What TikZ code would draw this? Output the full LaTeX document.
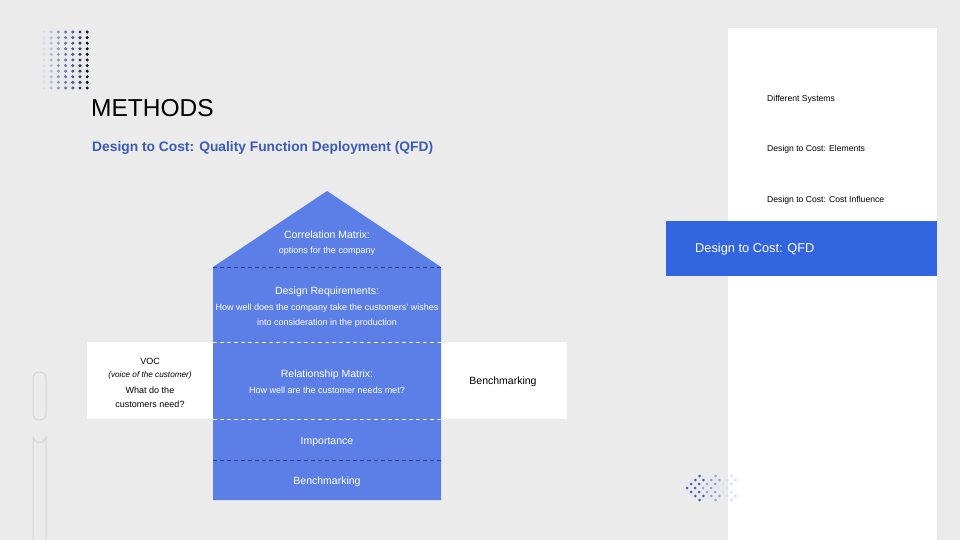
\documentclass[tikz,border=0pt]{standalone}
\usepackage{fontspec}
\setmainfont{Liberation Sans}
\definecolor{bg}{HTML}{EBEBEB}
\definecolor{hiblue}{HTML}{3465E0}
\definecolor{house}{HTML}{5B7FE6}
\definecolor{darkdash}{HTML}{2A3F8F}
\definecolor{subblue}{HTML}{3A5BB8}
\definecolor{capsule}{HTML}{D6D6D6}
\definecolor{dotA}{HTML}{D9DCE6}
\definecolor{dotB}{HTML}{B6BDD8}
\definecolor{dotC}{HTML}{8E99C8}
\definecolor{dotD}{HTML}{6B78B4}
\definecolor{dotE}{HTML}{4D5A9A}
\definecolor{dotF}{HTML}{2F3A70}
\definecolor{dotG}{HTML}{111426}
\definecolor{chevA}{HTML}{4A62B5}
\definecolor{chevB}{HTML}{95A3D8}
\definecolor{chevC}{HTML}{D8DDEE}
\begin{document}
\begin{tikzpicture}[x=1pt,y=-1pt,
  wtxt/.style={text=white,font=\fontsize{10.5}{12}\selectfont,inner sep=0pt},
  wsmall/.style={text=white,font=\fontsize{9}{10}\selectfont,inner sep=0pt},
  dtxt/.style={text=black,font=\fontsize{9}{10}\selectfont,inner sep=0pt},
  navtxt/.style={text=black,font=\fontsize{8.6}{10}\selectfont,inner sep=0pt,anchor=west},
  wdash/.style={white,dashed,line width=0.8pt,dash pattern=on 4pt off 3pt},
  ddash/.style={darkdash,dashed,line width=0.8pt,dash pattern=on 4pt off 3pt}]
\useasboundingbox (0,0) rectangle (960,540);
\fill[bg] (0,0) rectangle (960,540);
% right panel
\fill[white] (728,28) rectangle (937,540);
\fill[hiblue] (666,221) rectangle (937,276);
\node[anchor=west,text=white,font=\fontsize{12.8}{14}\selectfont,inner sep=0pt] (navqfd) at (695,249) {Design to Cost: QFD};
\node[navtxt] (nav1) at (767,99) {Different Systems};
\node[navtxt] (nav2) at (767,149) {Design to Cost: Elements};
\node[navtxt] (nav3) at (767,200) {Design to Cost: Cost Influence};
% dot grid top-left
\foreach \col [count=\i from 0] in {dotA,dotB,dotC,dotD,dotE,dotF,dotG}{
  \foreach \j in {0,...,10}{
    \fill[\col] (44+7.2*\i,32+5.6*\j) circle (1.7);
  }
}
% titles
\node[anchor=west,inner sep=0pt,font=\fontsize{24.5}{26}\selectfont] (title) at (91,108) {METHODS};
\node[anchor=west,inner sep=0pt,text=subblue,font=\bfseries\fontsize{13.8}{15}\selectfont] (sub) at (92,148) {Design to Cost: Quality Function Deployment (QFD)};
% capsules
\draw[capsule,line width=1pt,rounded corners=6pt] (33,372) rectangle (46,420);
\draw[capsule,line width=1pt] (33,540) -- (33,436) arc[start angle=180,end angle=0,radius=6.5] -- (46,540);
% white band
\fill[white] (87,342) rectangle (567,419);
% house
\fill[house] (327,191) -- (441,267) -- (441,500) -- (213,500) -- (213,267) -- cycle;
\draw[ddash] (213,267) -- (441,267);
\draw[wdash] (213,342) -- (441,342);
\draw[wdash] (213,419) -- (441,419);
\draw[ddash] (213,460) -- (441,460);
% house texts
\node[wtxt] (cm) at (327,235) {Correlation Matrix:};
\node[wsmall] (cm2) at (327,251) {options for the company};
\node[wtxt] (dr) at (327,292) {Design Requirements:};
\node[wsmall] (dr2) at (327,308) {How well does the company take the customers' wishes};
\node[wsmall] (dr3) at (327,323) {into consideration in the production};
\node[wtxt] (rm) at (327,375) {Relationship Matrix:};
\node[wsmall] (rm2) at (327,390) {How well are the customer needs met?};
\node[wtxt] (imp) at (327,442) {Importance};
\node[wtxt] (bm) at (327,482) {Benchmarking};
% left VOC
\node[dtxt] (voc) at (150,361) {VOC};
\node[dtxt,font=\itshape\fontsize{8.2}{9}\selectfont] (voc2) at (150,375) {(voice of the customer)};
\node[dtxt] (voc3) at (150,390) {What do the};
\node[dtxt] (voc4) at (150,404) {customers need?};
% right benchmarking
\node[text=black,font=\fontsize{10.5}{12}\selectfont,inner sep=0pt] (bmr) at (503,382) {Benchmarking};
% chevron dots
\foreach \k/\col in {0/chevA,1/chevB,2/chevC}{
  \foreach \r in {-3,...,3}{
    \pgfmathsetmacro{\dx}{4.2*abs(\r)}
    \fill[\col] (687+16*\k+\dx,488+4*\r) circle (1.5);
  }
  \foreach \r in {-2,...,2}{
    \pgfmathsetmacro{\dx}{4.2*abs(\r)+8}
    \fill[\col] (687+16*\k+\dx,488+4*\r) circle (1.5);
  }
}
\end{tikzpicture}
\end{document}
